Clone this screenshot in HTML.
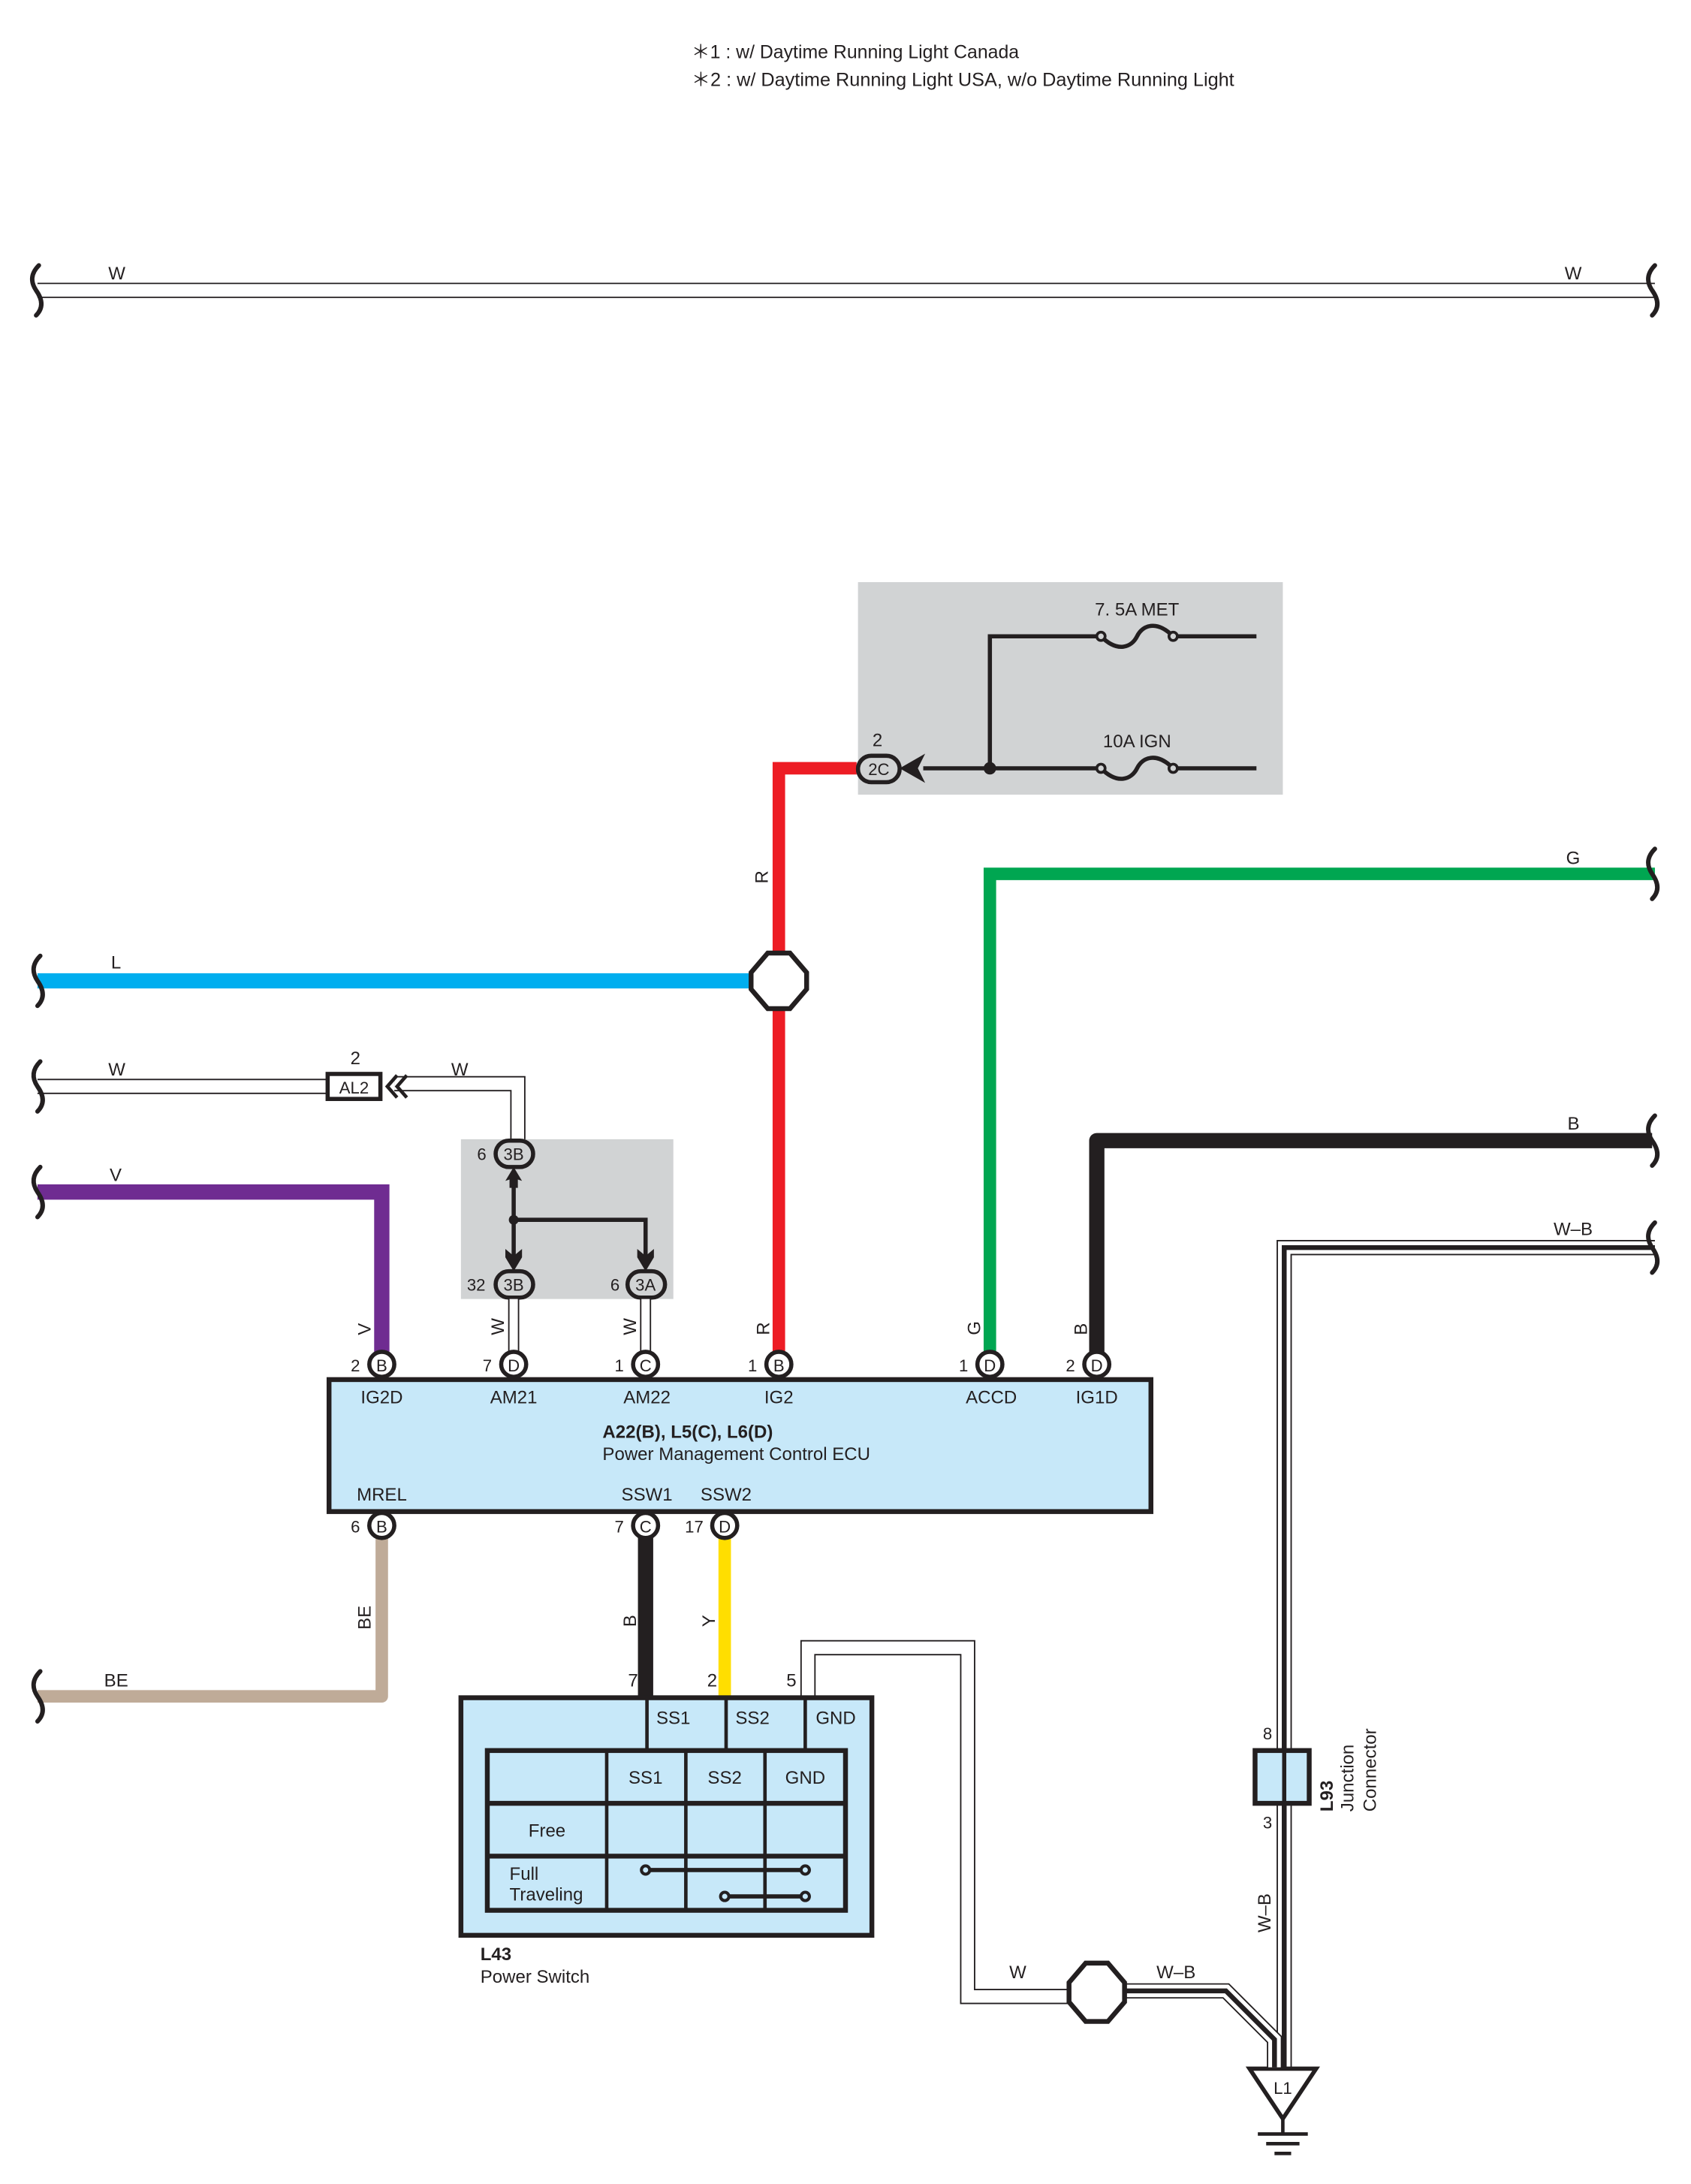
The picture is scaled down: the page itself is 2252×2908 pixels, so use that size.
<!DOCTYPE html>
<html><head><meta charset="utf-8"><style>
html,body{margin:0;padding:0;background:#fff}
svg{display:block}
text{font-family:"Liberation Sans",sans-serif;fill:#231f20}
</style></head><body>
<svg width="2252" height="2908" viewBox="0 0 1218 1572" preserveAspectRatio="none" xmlns="http://www.w3.org/2000/svg">
<defs>
<path id="brk" d="M0,-18 C-6,-12 -6,-6 -2,0 C3,7 3,13 -2,18" fill="none" stroke="#231f20" stroke-width="3.2" stroke-linecap="round"/>
</defs>
<g font-size="13.5">
<text x="498" y="42" textLength="236" lengthAdjust="spacingAndGlyphs">＊1 : w/ Daytime Running Light Canada</text>
<text x="498" y="62" textLength="391" lengthAdjust="spacingAndGlyphs">＊2 : w/ Daytime Running Light USA,  w/o Daytime Running Light</text>
</g>

<!-- top W wire -->
<line x1="27" y1="209" x2="1192" y2="209" stroke="#231f20" stroke-width="11"/>
<line x1="27" y1="209" x2="1192" y2="209" stroke="#fff" stroke-width="9"/>
<use href="#brk" x="28" y="209"/><use href="#brk" x="1192" y="209"/>
<text x="78" y="201" font-size="13">W</text>
<text x="1127" y="201" font-size="13">W</text>

<!-- fuse box -->
<rect x="618" y="419" width="306" height="153" fill="#d1d3d4"/>
<g stroke="#231f20" stroke-width="3" fill="none">
<path d="M713,553 V458 H793"/><path d="M845,458 H905"/>
<path d="M665,553 H793"/><path d="M845,553 H905"/>
<path d="M793,458 C805,470 815,466 819,458 C823,450 833,446 845,458"/>
<path d="M793,553 C805,565 815,561 819,553 C823,545 833,541 845,553"/>
</g>
<g fill="#d1d3d4" stroke="#231f20" stroke-width="2"><circle cx="793" cy="458" r="3"/><circle cx="845" cy="458" r="3"/><circle cx="793" cy="553" r="3"/><circle cx="845" cy="553" r="3"/></g>
<circle cx="713" cy="553" r="4.5" fill="#231f20"/>
<text x="819" y="443" font-size="13" text-anchor="middle">7. 5A MET</text>
<text x="819" y="538" font-size="13" text-anchor="middle">10A IGN</text>

<!-- red wire -->
<path d="M617,553 H561 V982" fill="none" stroke="#ed1c24" stroke-width="9"/>
<rect x="618" y="544" width="30" height="19" rx="9.5" fill="#d1d3d4" stroke="#231f20" stroke-width="3"/>
<text x="633" y="558" font-size="12" text-anchor="middle">2C</text>
<text x="632" y="537" font-size="13" text-anchor="middle">2</text>
<path d="M650,553 L664,545 L660,553 L664,561 Z" fill="#231f20" stroke="#231f20" stroke-width="2"/>
<text transform="translate(553,636) rotate(-90)" font-size="13">R</text>

<!-- blue L -->
<line x1="27" y1="706" x2="545" y2="706" stroke="#00aeef" stroke-width="11"/>
<use href="#brk" x="29" y="706"/>
<text x="80" y="697" font-size="13">L</text>
<polygon points="553,686 569,686 581,700 581,712 569,726 553,726 541,712 541,700" fill="#fff" stroke="#231f20" stroke-width="3.5"/>

<!-- green G -->
<path d="M1192,629 H713 V982" fill="none" stroke="#00a651" stroke-width="9"/>
<use href="#brk" x="1192" y="629"/>
<text x="1128" y="622" font-size="13">G</text>
<text transform="translate(706,961) rotate(-90)" font-size="13">G</text>

<!-- black B -->
<path d="M1190,821 H790 V982" fill="none" stroke="#231f20" stroke-width="11" stroke-linejoin="round"/>
<use href="#brk" x="1192" y="821"/>
<text x="1129" y="813" font-size="13">B</text>
<text transform="translate(783,961) rotate(-90)" font-size="13">B</text>

<!-- W-B vertical -->
<path d="M1192,898 H925 V1490" fill="none" stroke="#231f20" stroke-width="11"/>
<path d="M1192,898 H925 V1490" fill="none" stroke="#fff" stroke-width="9"/>
<path d="M1192,898 H925 V1490" fill="none" stroke="#231f20" stroke-width="3.5"/>
<use href="#brk" x="1192" y="898"/>
<text x="1119" y="889" font-size="13">W–B</text>

<!-- L93 -->
<rect x="904" y="1260" width="39" height="38" fill="#c7e8f9" stroke="#231f20" stroke-width="3.5"/>
<line x1="925" y1="1260" x2="925" y2="1298" stroke="#231f20" stroke-width="3"/>
<text x="913" y="1252" font-size="12" text-anchor="middle">8</text>
<text x="913" y="1316" font-size="12" text-anchor="middle">3</text>
<text transform="translate(960,1304) rotate(-90)" font-size="13" font-weight="bold">L93</text>
<text transform="translate(975,1304) rotate(-90)" font-size="13">Junction</text>
<text transform="translate(991,1304) rotate(-90)" font-size="13">Connector</text>
<text transform="translate(915,1391) rotate(-90)" font-size="13">W–B</text>

<!-- ground L1 -->
<polygon points="900,1489 948,1489 924,1525" fill="#fff" stroke="#231f20" stroke-width="3"/>
<text x="924" y="1507" font-size="12" text-anchor="middle">L1</text>
<g stroke="#231f20" stroke-width="2.5"><line x1="924" y1="1525" x2="924" y2="1536"/><line x1="906" y1="1536" x2="942" y2="1536"/><line x1="912" y1="1543" x2="936" y2="1543"/><line x1="918" y1="1550" x2="930" y2="1550"/></g>

<!-- W-B from splice -->
<path d="M810,1433 H883 L918,1468 V1488" fill="none" stroke="#231f20" stroke-width="11"/>
<path d="M810,1433 H883 L918,1468 V1488" fill="none" stroke="#fff" stroke-width="9"/>
<path d="M810,1433 H883 L918,1468 V1488" fill="none" stroke="#231f20" stroke-width="3.5"/>
<text x="833" y="1424" font-size="13">W–B</text>

<!-- W from pin5 -->
<path d="M582,1222 V1186 H697 V1437 H772" fill="none" stroke="#231f20" stroke-width="11"/>
<path d="M582,1224 V1186 H697 V1437 H772" fill="none" stroke="#fff" stroke-width="9"/>
<text x="727" y="1424" font-size="13">W</text>
<polygon points="782,1413 798,1413 810,1427 810,1441 798,1455 782,1455 770,1441 770,1427" fill="#fff" stroke="#231f20" stroke-width="3.5"/>

<!-- AL2 W -->
<line x1="27" y1="782" x2="236" y2="782" stroke="#231f20" stroke-width="11"/>
<line x1="27" y1="782" x2="236" y2="782" stroke="#fff" stroke-width="9"/>
<path d="M284,780 H373 V822" fill="none" stroke="#231f20" stroke-width="11"/>
<path d="M284,780 H373 V824" fill="none" stroke="#fff" stroke-width="9"/>
<use href="#brk" x="29" y="782"/>
<text x="78" y="774" font-size="13">W</text>
<text x="325" y="774" font-size="13">W</text>
<text x="256" y="766" font-size="13" text-anchor="middle">2</text>
<rect x="236" y="773" width="38" height="18" fill="#fff" stroke="#231f20" stroke-width="3"/>
<text x="255" y="787" font-size="12" text-anchor="middle">AL2</text>
<path d="M286,774 L279,782 L286,790 M293,774 L286,782 L293,790" fill="none" stroke="#231f20" stroke-width="2.5"/>

<!-- gray box 2 -->
<rect x="332" y="820" width="153" height="115" fill="#d1d3d4"/>
<g stroke="#231f20" stroke-width="3" fill="none">
<path d="M370,848 V912"/><path d="M370,878 H465 V912"/>
</g>
<circle cx="370" cy="878" r="3.5" fill="#231f20"/>
<path d="M370,840 L376,850 L373,849 L373,855 L367,855 L367,849 L364,850 Z" fill="#231f20"/>
<path d="M370,915 L376,905 L376,899 L370,904 L364,899 L364,905 Z" fill="#231f20"/>
<path d="M465,915 L471,905 L471,899 L465,904 L459,899 L459,905 Z" fill="#231f20"/>
<g fill="#d1d3d4" stroke="#231f20" stroke-width="3">
<rect x="357" y="821" width="27" height="19" rx="9.5"/>
<rect x="357" y="915" width="27" height="19" rx="9.5"/>
<rect x="452" y="915" width="27" height="19" rx="9.5"/>
</g>
<g font-size="12" text-anchor="middle">
<text x="370" y="835">3B</text><text x="370" y="929">3B</text><text x="465" y="929">3A</text>
<text x="347" y="835">6</text><text x="343" y="929">32</text><text x="443" y="929">6</text>
</g>

<!-- narrow W into ECU -->
<g>
<line x1="370" y1="935" x2="370" y2="975" stroke="#231f20" stroke-width="8"/>
<line x1="370" y1="935" x2="370" y2="975" stroke="#fff" stroke-width="6"/>
<line x1="465" y1="935" x2="465" y2="975" stroke="#231f20" stroke-width="8"/>
<line x1="465" y1="935" x2="465" y2="975" stroke="#fff" stroke-width="6"/>
</g>
<text transform="translate(363,961) rotate(-90)" font-size="13">W</text>
<text transform="translate(458,961) rotate(-90)" font-size="13">W</text>
<text transform="translate(554,961) rotate(-90)" font-size="13">R</text>

<!-- V purple -->
<path d="M27,858 H275 V982" fill="none" stroke="#6f2c91" stroke-width="11"/>
<use href="#brk" x="29" y="858"/>
<text x="79" y="850" font-size="13">V</text>
<text transform="translate(267,961) rotate(-90)" font-size="13">V</text>

<!-- BE -->
<path d="M275,1098 V1221 H27" fill="none" stroke="#bfab98" stroke-width="9" stroke-linejoin="round"/>
<use href="#brk" x="29" y="1221"/>
<text x="75" y="1214" font-size="13">BE</text>
<text transform="translate(267,1173) rotate(-90)" font-size="13">BE</text>

<!-- B and Y -->
<line x1="465" y1="1098" x2="465" y2="1222" stroke="#231f20" stroke-width="11"/>
<line x1="522" y1="1098" x2="522" y2="1222" stroke="#ffde00" stroke-width="9"/>
<text transform="translate(458,1171) rotate(-90)" font-size="13">B</text>
<text transform="translate(515,1171) rotate(-90)" font-size="13">Y</text>

<!-- ECU -->
<rect x="237" y="993" width="592" height="95" fill="#c7e8f9" stroke="#231f20" stroke-width="3.5"/>
<g fill="#fff" stroke="#231f20" stroke-width="3">
<circle cx="275" cy="982" r="9"/><circle cx="370" cy="982" r="9"/><circle cx="465" cy="982" r="9"/>
<circle cx="561" cy="982" r="9"/><circle cx="713" cy="982" r="9"/><circle cx="790" cy="982" r="9"/>
<circle cx="275" cy="1098" r="9"/><circle cx="465" cy="1098" r="9"/><circle cx="522" cy="1098" r="9"/>
</g>
<g font-size="12" text-anchor="middle">
<text x="275" y="987">B</text><text x="370" y="987">D</text><text x="465" y="987">C</text>
<text x="561" y="987">B</text><text x="713" y="987">D</text><text x="790" y="987">D</text>
<text x="275" y="1103">B</text><text x="465" y="1103">C</text><text x="522" y="1103">D</text>
<text x="256" y="987">2</text><text x="351" y="987">7</text><text x="446" y="987">1</text>
<text x="542" y="987">1</text><text x="694" y="987">1</text><text x="771" y="987">2</text>
<text x="256" y="1103">6</text><text x="446" y="1103">7</text><text x="500" y="1103">17</text>
</g>
<g font-size="13" text-anchor="middle">
<text x="275" y="1010">IG2D</text><text x="370" y="1010">AM21</text><text x="466" y="1010">AM22</text>
<text x="561" y="1010">IG2</text><text x="714" y="1010">ACCD</text><text x="790" y="1010">IG1D</text>
<text x="275" y="1080">MREL</text><text x="466" y="1080">SSW1</text><text x="523" y="1080">SSW2</text>
</g>
<text x="434" y="1035" font-size="13" font-weight="bold">A22(B), L5(C), L6(D)</text>
<text x="434" y="1051" font-size="13">Power Management Control ECU</text>

<!-- L43 -->
<rect x="332" y="1222" width="296" height="171" fill="#c7e8f9" stroke="#231f20" stroke-width="3.5"/>
<g stroke="#231f20" stroke-width="2.5"><line x1="466" y1="1222" x2="466" y2="1260"/><line x1="523" y1="1222" x2="523" y2="1260"/><line x1="580" y1="1222" x2="580" y2="1260"/></g>
<rect x="351" y="1260" width="258" height="115" fill="none" stroke="#231f20" stroke-width="3.5"/>
<g stroke="#231f20" stroke-width="2.5"><line x1="437" y1="1260" x2="437" y2="1375"/><line x1="494" y1="1260" x2="494" y2="1375"/><line x1="551" y1="1260" x2="551" y2="1375"/></g>
<g stroke="#231f20" stroke-width="3.5"><line x1="351" y1="1298" x2="609" y2="1298"/><line x1="351" y1="1336" x2="609" y2="1336"/></g>
<g stroke="#231f20" stroke-width="3"><line x1="465" y1="1346" x2="580" y2="1346"/><line x1="522" y1="1365" x2="580" y2="1365"/></g>
<g fill="#c7e8f9" stroke="#231f20" stroke-width="2.2"><circle cx="465" cy="1346" r="3"/><circle cx="580" cy="1346" r="3"/><circle cx="522" cy="1365" r="3"/><circle cx="580" cy="1365" r="3"/></g>
<g font-size="13" text-anchor="middle">
<text x="485" y="1241">SS1</text><text x="542" y="1241">SS2</text><text x="602" y="1241">GND</text>
<text x="465" y="1284">SS1</text><text x="522" y="1284">SS2</text><text x="580" y="1284">GND</text>
<text x="394" y="1322">Free</text>
<text x="456" y="1214">7</text><text x="513" y="1214">2</text><text x="570" y="1214">5</text>
</g>
<text x="367" y="1353" font-size="13">Full</text>
<text x="367" y="1368" font-size="13">Traveling</text>
<text x="346" y="1411" font-size="13" font-weight="bold">L43</text>
<text x="346" y="1427" font-size="13">Power Switch</text>
</svg>
</body></html>
